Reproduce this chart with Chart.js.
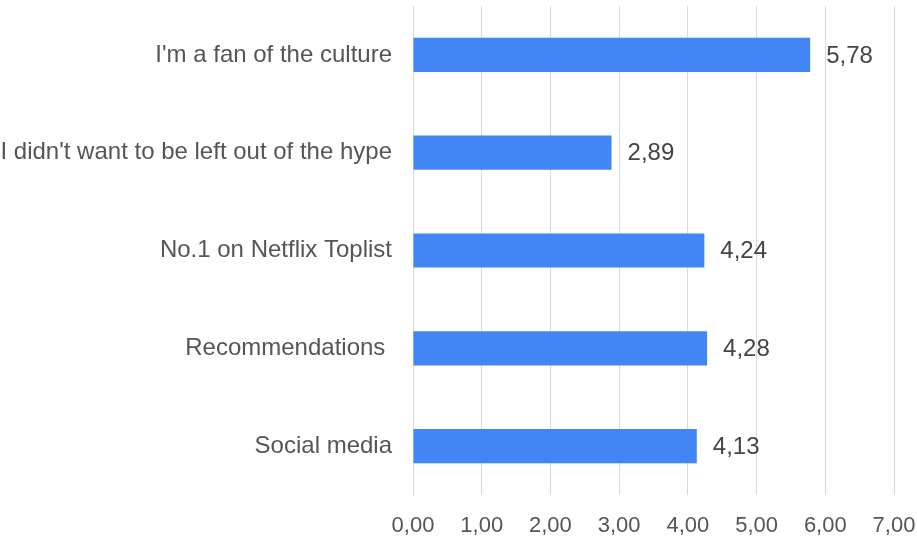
<!DOCTYPE html>
<html>
<head>
<meta charset="utf-8">
<script src="https://cdn.jsdelivr.net/npm/chart.js@4/dist/chart.umd.min.js"></script>
<style>
  html, body { margin: 0; padding: 0; background: #fff; }
  #wrap { width: 917px; height: 541px; position: relative; }
</style>
</head>
<body>
<div id="wrap"><canvas id="reasons"></canvas></div>
<script>
// Redenen om te kijken, gemiddelde score per reden
const categories = [
    "I'm a fan of the culture",
    "I didn't want to be left out of the hype",
    "No.1 on Netflix Toplist",
    "Recommendations ",
    "Social media"
];
const scores = [5.78, 2.89, 4.24, 4.28, 4.13];
const xTicks = [0, 1, 2, 3, 4, 5, 6, 7];

const fmt = (v) => v.toFixed(2).replace('.', ',');
const FONT = '"Liberation Sans", Arial, sans-serif';

// Waardelabels rechts naast elke balk
const valueLabels = {
    id: 'valueLabels',
    afterDatasetsDraw(chart) {
        const ctx = chart.ctx;
        const meta = chart.getDatasetMeta(0);
        ctx.save();
        ctx.font = '24px ' + FONT;
        ctx.fillStyle = '#444444';
        ctx.textAlign = 'left';
        ctx.textBaseline = 'middle';
        meta.data.forEach((bar, i) => {
            ctx.fillText(fmt(scores[i]), bar.x + 16, bar.y + 1);
        });
        ctx.restore();
    }
};

// geen automatische marges voor uitstekende labels
const noPad = (axis) => {
    axis.paddingTop = 0;
    axis.paddingBottom = 0;
    axis.paddingLeft = 0;
    axis.paddingRight = 0;
};

new Chart(document.getElementById('reasons').getContext('2d'), {
    type: 'bar',
    data: {
        labels: categories,
        datasets: [{
            data: scores,
            backgroundColor: '#4285F4',
            barPercentage: 0.35,
            categoryPercentage: 1
        }]
    },
    options: {
        indexAxis: 'y',
        responsive: true,
        maintainAspectRatio: false,
        animation: false,
        layout: { padding: { top: 6, right: 23, bottom: 0, left: 0 } },
        plugins: {
            legend: { display: false },
            tooltip: { enabled: false }
        },
        scales: {
            x: {
                min: 0,
                max: 7,
                afterBuildTicks: (axis) => { axis.ticks = xTicks.map(v => ({ value: v })); },
                afterFit: (axis) => { axis.height = 46; noPad(axis); },
                grid: { color: '#d9d9d9', lineWidth: 1, drawTicks: false },
                border: { display: false },
                ticks: {
                    padding: 18,
                    color: '#555555',
                    font: { family: FONT, size: 22 },
                    callback: (v) => fmt(v)
                }
            },
            y: {
                afterFit: (axis) => { axis.width = 413; noPad(axis); },
                grid: { display: false, drawTicks: false },
                border: { display: true, color: '#d9d9d9', width: 1 },
                ticks: {
                    padding: 21,
                    color: '#555555',
                    font: { family: FONT, size: 24 }
                }
            }
        }
    },
    plugins: [valueLabels]
});
</script>
</body>
</html>
